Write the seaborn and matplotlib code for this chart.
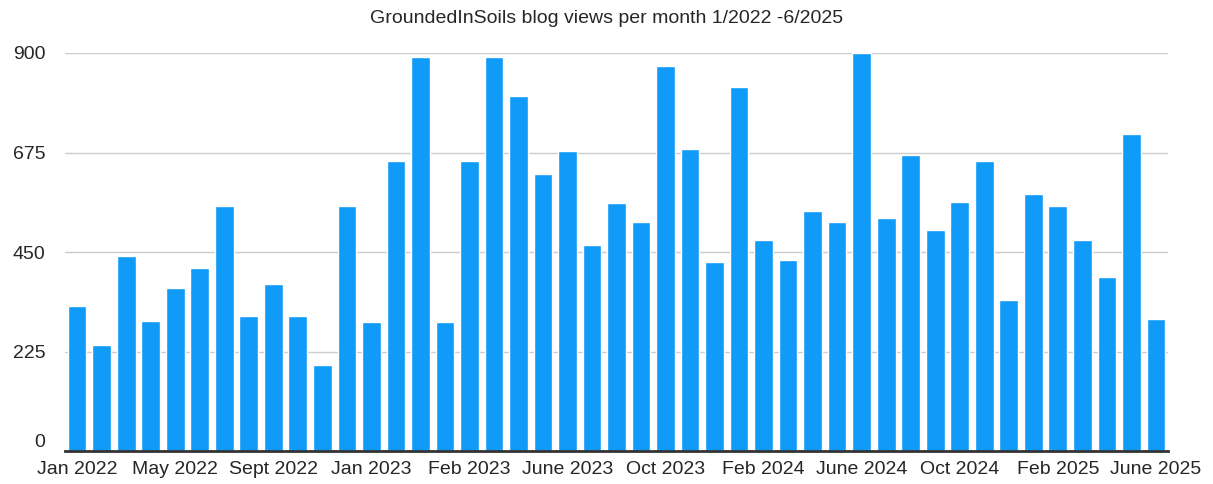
import seaborn as sns
import matplotlib.pyplot as plt

# monthly views (45 bars)
views = [327, 239, 442, 295, 368, 414, 555, 306, 377, 306,
         194, 555, 292, 655, 892, 292, 655, 892, 802, 627,
         678, 465, 560, 519, 870, 682, 427, 823, 477, 433,
         543, 517, 900, 526, 670, 500, 563, 656, 341, 581,
         554, 477, 393, 716, 298]
bar_index = list(range(len(views)))

tick_labels = ['Jan 2022', 'May 2022', 'Sept 2022', 'Jan 2023', 'Feb 2023', 'June 2023',
               'Oct 2023', 'Feb 2024', 'June 2024', 'Oct 2024', 'Feb 2025', 'June 2025']
y_ticks = [0, 225, 450, 675, 900]

sns.set_style('white')
plt.rcParams['font.family'] = ['Liberation Sans', 'DejaVu Sans']

fig = plt.figure(figsize=(12.13, 4.84), dpi=100)
ax = fig.add_axes([0.0535, 0.068, 0.9095, 0.8225])

sns.barplot(x=bar_index, y=views, color='#0F9BF7', saturation=1, width=0.76, ax=ax)

ax.set_xlim(-0.5, len(views) - 0.5)
ax.set_ylim(0, 900)
ax.set_yticks(y_ticks)
ax.set_yticklabels([str(t) for t in y_ticks], fontsize=14)
ax.set_xticks(bar_index[::4])
ax.set_xticklabels(tick_labels, fontsize=14)
ax.tick_params(axis='y', length=0, pad=14)
ax.tick_params(axis='x', length=0, pad=7)
# lift the zero label a little so it clears the first month label
ax.get_yticklabels()[0].set_va('bottom')

ax.yaxis.grid(True, color='#cccccc', linewidth=1)
ax.set_axisbelow(True)
for side in ['top', 'right', 'left']:
    ax.spines[side].set_visible(False)
ax.spines['bottom'].set_color('#333333')
ax.spines['bottom'].set_linewidth(2)
ax.set_xlabel('')
ax.set_ylabel('')

fig.suptitle('GroundedInSoils blog views per month 1/2022 -6/2025', fontsize=14, y=0.98, va='top')

fig.savefig('out.png', dpi=100)
